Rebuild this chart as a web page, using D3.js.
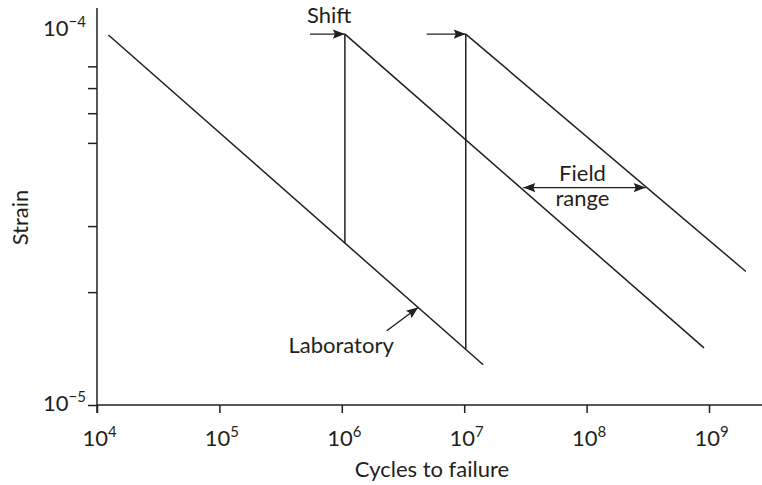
<!DOCTYPE html>
<html>
<head>
<meta charset="utf-8">
<script src="https://cdn.jsdelivr.net/npm/d3@7"></script>
<style>
  html, body { margin: 0; padding: 0; background: #fff; }
  svg { display: block; }
  text { font-family: Lato, "Open Sans", sans-serif; fill: #231f20; }
</style>
</head>
<body>
<svg id="chart" width="762" height="485"></svg>
<script>
// Strain–life curves: laboratory line and the field lines shifted to the right
const xTickValues = [1e4, 1e5, 1e6, 1e7, 1e8, 1e9];
const xTickExps   = ["4", "5", "6", "7", "8", "9"];
const yMinorTicks = [2e-5, 3e-5, 5e-5, 6e-5, 7e-5, 8e-5];
const yLabelValues = [1e-5, 1e-4];
const yLabelExps   = ["\u22125", "\u22124"];

// [cycles, strain] end points of each line
const laboratory = [[1.24e4, 9.7e-5], [1.43e7, 1.28e-5]];
const fieldA     = [[1.06e6, 9.75e-5], [9.1e8, 1.42e-5]];
const fieldB     = [[1.03e7, 9.75e-5], [2.0e9, 2.27e-5]];
const shiftDrops = [
  [[1.06e6, 2.7e-5], [1.06e6, 9.75e-5]],
  [[1.03e7, 1.41e-5], [1.03e7, 9.75e-5]]
];

// annotation arrows [from, to]
const shiftArrows = [
  [[5.5e5, 9.75e-5], [1.06e6, 9.75e-5]],
  [[4.94e6, 9.75e-5], [1.03e7, 9.75e-5]]
];
const labArrow   = [[2.33e6, 1.578e-5], [4.22e6, 1.822e-5]];
const fieldRange = [[3.04e7, 3.8e-5], [3.04e8, 3.8e-5]];

const ink = "#231f20";
const labelSize = 22;
const tickSize = 22;
const expSize = 15;
const svg = d3.select("#chart");

const x = d3.scaleLog().domain([1e4, 1e9]).range([97, 709]);
const y = d3.scaleLog().domain([1e-5, 1e-4]).range([405, 30]);

const defs = svg.append("defs");
function arrowMarker(id, orient) {
  defs.append("marker")
    .attr("id", id)
    .attr("viewBox", "-13 -6 14 12")
    .attr("refX", 0).attr("refY", 0)
    .attr("markerWidth", 14).attr("markerHeight", 12)
    .attr("markerUnits", "userSpaceOnUse")
    .attr("orient", orient)
    .append("path")
    .attr("d", "M0,0 L-12,-4.6 L-10,0 L-12,4.6 Z")
    .attr("fill", ink);
}
arrowMarker("head", "auto");
arrowMarker("head2", "auto-start-reverse");

// x axis
const xAxis = svg.append("g")
  .attr("transform", `translate(0,${y(1e-5)})`)
  .call(d3.axisBottom(x).tickValues(xTickValues).tickSize(8).tickSizeOuter(0).tickFormat(() => ""));
xAxis.select(".domain").remove();
xAxis.selectAll(".tick line").attr("stroke", ink).attr("stroke-width", 1.5);
xAxis.append("line")
  .attr("x1", x(1e4)).attr("x2", 762)
  .attr("stroke", ink).attr("stroke-width", 1.5);
xAxis.selectAll(".tick").each(function (d, i) {
  const t = d3.select(this).select("text")
    .attr("y", 41).attr("dy", 0).attr("x", 2)
    .attr("font-size", tickSize).attr("text-anchor", "middle");
  t.append("tspan").text("10");
  t.append("tspan").attr("font-size", expSize).attr("dy", -9).text(xTickExps[i]);
});

// y axis
const yAxis = svg.append("g")
  .attr("transform", `translate(${x(1e4)},0)`)
  .call(d3.axisLeft(y).tickValues([1e-5].concat(yMinorTicks)).tickSize(9).tickSizeOuter(0).tickFormat(() => ""));
yAxis.select(".domain").remove();
yAxis.selectAll(".tick line").attr("stroke", ink).attr("stroke-width", 1.5);
yAxis.append("line")
  .attr("y1", y(1e-5) + 8).attr("y2", 8)
  .attr("stroke", ink).attr("stroke-width", 1.5);
yAxis.selectAll(".tick text").remove();
yLabelValues.forEach((v, i) => {
  const t = yAxis.append("text")
    .attr("x", -11).attr("y", y(v) + 6)
    .attr("font-size", tickSize).attr("text-anchor", "end");
  t.append("tspan").text("10");
  t.append("tspan").attr("font-size", expSize).attr("dy", -9).text(yLabelExps[i]);
});

// axis titles
svg.append("text")
  .attr("x", 432).attr("y", 477)
  .attr("font-size", labelSize).attr("text-anchor", "middle")
  .text("Cycles to failure");
svg.append("text")
  .attr("transform", `translate(28,${(y(1e-5) + y(1e-4)) / 2}) rotate(-90)`)
  .attr("font-size", labelSize).attr("text-anchor", "middle")
  .text("Strain");

// curves
const line = d3.line().x(d => x(d[0])).y(d => y(d[1]));
const curves = svg.append("g")
  .attr("fill", "none").attr("stroke", ink).attr("stroke-width", 1.5);
[laboratory, fieldA, fieldB].concat(shiftDrops).forEach(seg => {
  curves.append("path").attr("d", line(seg));
});

// arrows
const arrows = svg.append("g")
  .attr("fill", "none").attr("stroke", ink).attr("stroke-width", 1.4);
shiftArrows.concat([labArrow]).forEach(seg => {
  arrows.append("path").attr("d", line(seg)).attr("marker-end", "url(#head)");
});
arrows.append("path").attr("d", line(fieldRange))
  .attr("marker-start", "url(#head2)").attr("marker-end", "url(#head)");

// annotation text
svg.append("text")
  .attr("x", x(shiftArrows[0][0][0]) - 3).attr("y", y(shiftArrows[0][0][1]) - 11)
  .attr("font-size", labelSize).text("Shift");
svg.append("text")
  .attr("x", x(labArrow[0][0]) + 7).attr("y", y(labArrow[0][1]) + 22)
  .attr("font-size", labelSize).attr("text-anchor", "end").text("Laboratory");
const fx = (x(fieldRange[0][0]) + x(fieldRange[1][0])) / 2 - 2;
const fy = y(fieldRange[0][1]);
svg.append("text").attr("x", fx).attr("y", fy - 7)
  .attr("font-size", labelSize).attr("text-anchor", "middle").text("Field");
svg.append("text").attr("x", fx).attr("y", fy + 18)
  .attr("font-size", labelSize).attr("text-anchor", "middle").text("range");
</script>
</body>
</html>
